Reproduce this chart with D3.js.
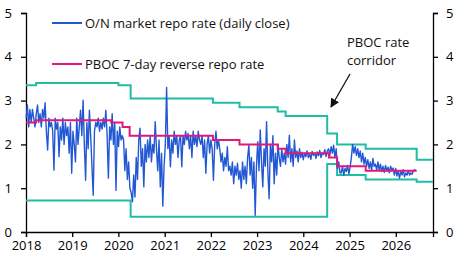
<!DOCTYPE html>
<html>
<head>
<meta charset="utf-8">
<script src="https://cdn.jsdelivr.net/npm/d3@7"></script>
<style>
	body { margin: 0; background: #fff; }
	svg { display: block; }
	.c-repo__axis path, .c-repo__axis line { stroke: #000; stroke-width: 1.3; }
	.c-repo__axis text { font-family: "Open Sans", sans-serif; font-size: 13px; fill: #000; }
	.c-repo__label { font-family: "Open Sans", sans-serif; font-size: 13px; fill: #111; }
</style>
</head>
<body>
<div id="chart"></div>
<script>
//O/N market repo rate, one reading every 10 days from 2 Jan 2018
var repoStart = new Date(2018, 0, 2);
var repoStepDays = 10;
var onRepo = [
	2.6, 2.9, 2.4, 2.8,
	2.5, 2.8, 2.6, 2.4, 2.7, 2.9, 2.5, 2.7, 2.4, 2.8, 2.6,
	2.95, 2.3, 1.87, 2.6, 2.4,
	2.5, 2.3, 1.41, 2.6, 2.35, 2.5,
	1.72, 2.4, 2.1, 2.6, 2.0, 2.5, 2.2,
	2.4, 1.8, 2.5, 1.34, 2.3, 2.0,
	1.6, 2.6, 2.0, 2.4, 2.78,
	2.2, 3.01, 2.0, 1.18, 2.5, 1.9,
	2.78, 2.2, 1.5, 0.84, 2.3, 2.5,
	2.4, 2.6, 2.3, 2.5, 2.35, 2.6, 2.4,
	2.78, 2.2,
	1.23, 2.4, 2.1,
	2.7, 2.0, 2.5, 0.95,
	2.3, 1.95, 2.4, 2.1, 2.2,
	2.1, 1.4, 1.9, 1.2,
	1.6, 1.0, 0.9, 0.69,
	1.3, 0.8, 1.7, 1.2, 2.1,
	2.37, 1.5, 1.9, 1.03, 2.0, 1.6,
	2.1, 1.7, 2.2, 1.6, 2.0, 1.8, 2.52,
	1.9, 1.4, 2.1, 1.03,
	1.8, 0.59, 1.5, 2.0,
	3.3,
	1.9, 2.2, 1.49, 2.1, 1.8, 2.3, 2.0, 2.2, 1.7, 2.1, 2.2,
	1.49, 2.2, 2.0, 2.3, 2.1, 2.25, 1.9, 2.2, 1.7, 2.3, 2.0, 2.2, 1.95, 2.3, 2.1,
	2.0, 2.2, 1.7, 2.1, 1.34, 2.0, 2.2, 1.8, 2.1, 1.9,
	1.18, 2.0, 2.3, 1.9, 2.1,
	1.9, 1.6, 1.8, 1.4, 1.7, 1.5, 1.95, 1.4,
	1.5, 1.3, 1.6, 1.1, 1.5, 1.3, 1.57, 1.2,
	1.4, 1.0, 1.6, 1.2, 1.5, 1.1, 1.7, 1.98,
	1.3, 1.7, 1.0, 1.6, 0.38, 1.5, 2.06, 1.4,
	2.33, 1.6, 1.03, 1.9, 1.5,
	2.52, 1.4, 0.76, 2.0,
	1.6, 2.2, 1.1, 1.8, 1.3, 2.0, 1.7,
	1.5, 1.9, 1.6, 1.8, 1.55, 2.0, 1.7, 2.21,
	1.6, 1.9, 1.5, 2.1, 1.7, 1.85, 1.6, 1.9,
	1.7, 1.82, 1.65, 1.8, 1.72, 1.85, 1.7, 1.78, 1.66, 1.84, 1.75, 1.8, 1.68, 1.83, 1.74, 1.86, 1.7, 1.8, 1.77, 1.88, 1.72, 1.85, 1.9,
	1.75, 1.95, 1.8, 1.98, 1.7, 1.9,
	1.45, 1.6, 1.35,
	1.35, 1.5, 1.3, 1.45, 1.38, 1.52, 1.33, 1.48,
	1.7, 2.0, 1.8, 1.95,
	1.75, 1.9, 1.7, 1.85,
	1.6, 1.8, 1.55, 1.7, 1.5, 1.65,
	1.45, 1.6, 1.4, 1.68, 1.5, 1.55, 1.42, 1.6,
	1.4, 1.55, 1.38, 1.5, 1.36, 1.52, 1.4, 1.48, 1.35, 1.5, 1.42, 1.46,
	1.3, 1.45, 1.28, 1.4, 1.23, 1.38, 1.3, 1.42, 1.26, 1.35, 1.3, 1.4,
	1.3, 1.35, 1.32, 1.4, 1.42, 1.4
];

//PBOC 7-day reverse repo rate (step changes)
var rrDates = ["2018-01-01", "2018-03-22", "2019-11-05", "2020-02-03", "2020-03-30", "2022-01-17", "2022-08-15", "2023-06-13", "2023-08-15", "2024-07-22", "2024-09-24", "2025-05-08"];
var rrRates = [2.50, 2.55, 2.50, 2.40, 2.20, 2.10, 2.00, 1.90, 1.80, 1.70, 1.50, 1.40];
var rrEnd = "2026-06-15";

//PBOC rate corridor, upper and lower bounds
var ceilDates = ["2018-01-01", "2018-03-22", "2020-01-01", "2020-04-07", "2022-01-17", "2022-08-15", "2023-06-13", "2023-08-15", "2024-07-08", "2024-09-24", "2025-05-08", "2026-06-15"];
var ceilRates = [3.35, 3.40, 3.35, 3.05, 2.95, 2.85, 2.75, 2.65, 2.25, 2.00, 1.90, 1.65];
var floorDates = ["2018-01-01", "2020-04-07", "2024-07-08", "2024-09-24", "2025-05-08", "2026-06-15"];
var floorRates = [0.72, 0.35, 1.55, 1.30, 1.20, 1.15];
var corridorEnd = "2026-10-22";

var yearTicks = [2018, 2019, 2020, 2021, 2022, 2023, 2024, 2025, 2026];
var rateTicks = [0, 1, 2, 3, 4, 5];

var colors = { repo: "#2358d4", rr: "#e0197b", corridor: "#21bca6" };
var classPrefix = "c-repo";

var parse = d3.timeParse("%Y-%m-%d");

//Turn step changes into points for a step line
function steps(dates, rates, end){
	var pts = dates.map(function(d, i){ return { date: parse(d), rate: rates[i] }; });
	pts.push({ date: parse(end), rate: rates[rates.length - 1] });
	return pts;
}

var repoPoints = onRepo.map(function(v, i){
	return { date: d3.timeDay.offset(repoStart, i * repoStepDays), rate: v };
});

var width = 468, height = 265;
var margin = { top: 13, right: 35, bottom: 33, left: 26 };

var svg = d3.select("#chart")
	.append("svg")
	.attr("width", width)
	.attr("height", height);

var xScale = d3.scaleTime()
	.domain([parse("2018-01-01"), parse(corridorEnd)])
	.range([margin.left, width - margin.right]);
var yScale = d3.scaleLinear()
	.domain([0, 5])
	.range([height - margin.bottom, margin.top]);

//Axes
svg.append("g")
	.attr("class", classPrefix + "__axis")
	.attr("transform", "translate(0," + (height - margin.bottom) + ")")
	.call(d3.axisBottom(xScale)
		.tickValues(yearTicks.map(function(y){ return new Date(y, 0, 1); }))
		.tickFormat(d3.timeFormat("%Y"))
		.tickSizeOuter(0).tickSize(5).tickPadding(4));

svg.append("g")
	.attr("class", classPrefix + "__axis")
	.attr("transform", "translate(" + margin.left + ",0)")
	.call(d3.axisLeft(yScale).tickValues(rateTicks).tickFormat(d3.format("d"))
		.tickSizeOuter(0).tickSize(5).tickPadding(9));

svg.append("g")
	.attr("class", classPrefix + "__axis")
	.attr("transform", "translate(" + (width - margin.right) + ",0)")
	.call(d3.axisRight(yScale).tickValues(rateTicks).tickFormat(d3.format("d"))
		.tickSizeOuter(0).tickSize(5).tickPadding(8));

//Lines
var line = d3.line()
	.x(function(d){ return xScale(d.date); })
	.y(function(d){ return yScale(d.rate); });
var stepLine = d3.line()
	.curve(d3.curveStepAfter)
	.x(function(d){ return xScale(d.date); })
	.y(function(d){ return yScale(d.rate); });

var lines = svg.append("g").attr("class", classPrefix + "__lines").attr("fill", "none");

lines.append("path")
	.datum(steps(ceilDates, ceilRates, corridorEnd))
	.attr("d", stepLine)
	.attr("stroke", colors.corridor)
	.attr("stroke-width", 2);
lines.append("path")
	.datum(steps(floorDates, floorRates, corridorEnd))
	.attr("d", stepLine)
	.attr("stroke", colors.corridor)
	.attr("stroke-width", 2);

lines.append("path")
	.datum(repoPoints)
	.attr("d", line)
	.attr("stroke", colors.repo)
	.attr("stroke-width", 1.4)
	.attr("stroke-linejoin", "round");

lines.append("path")
	.datum(steps(rrDates, rrRates, rrEnd))
	.attr("d", stepLine)
	.attr("stroke", colors.rr)
	.attr("stroke-width", 2);

//Legend
var legend = [
	{ label: "O/N market repo rate (daily close)", color: colors.repo, y: 23 },
	{ label: "PBOC 7-day reverse repo rate", color: colors.rr, y: 64 }
];
legend.forEach(function(cur){
	svg.append("line")
		.attr("x1", 52).attr("x2", 82)
		.attr("y1", cur.y).attr("y2", cur.y)
		.attr("stroke", cur.color)
		.attr("stroke-width", 2);
	svg.append("text")
		.attr("class", classPrefix + "__label")
		.attr("x", 85).attr("y", cur.y + 4.5)
		.text(cur.label);
});

//Annotation for the corridor
svg.append("defs").append("marker")
	.attr("id", "arrow")
	.attr("viewBox", "0 0 10 10")
	.attr("refX", 9).attr("refY", 5)
	.attr("markerWidth", 7).attr("markerHeight", 7)
	.attr("orient", "auto")
	.append("path")
	.attr("d", "M0,0L10,5L0,10z")
	.attr("fill", "#111");

svg.append("line")
	.attr("x1", 350).attr("y1", 74)
	.attr("x2", 331).attr("y2", 107)
	.attr("stroke", "#111")
	.attr("stroke-width", 1.3)
	.attr("marker-end", "url(#arrow)");

var note = svg.append("text")
	.attr("class", classPrefix + "__label")
	.attr("x", 347).attr("y", 47);
note.append("tspan").attr("x", 347).text("PBOC rate");
note.append("tspan").attr("x", 347).attr("dy", 18).text("corridor");
</script>
</body>
</html>
